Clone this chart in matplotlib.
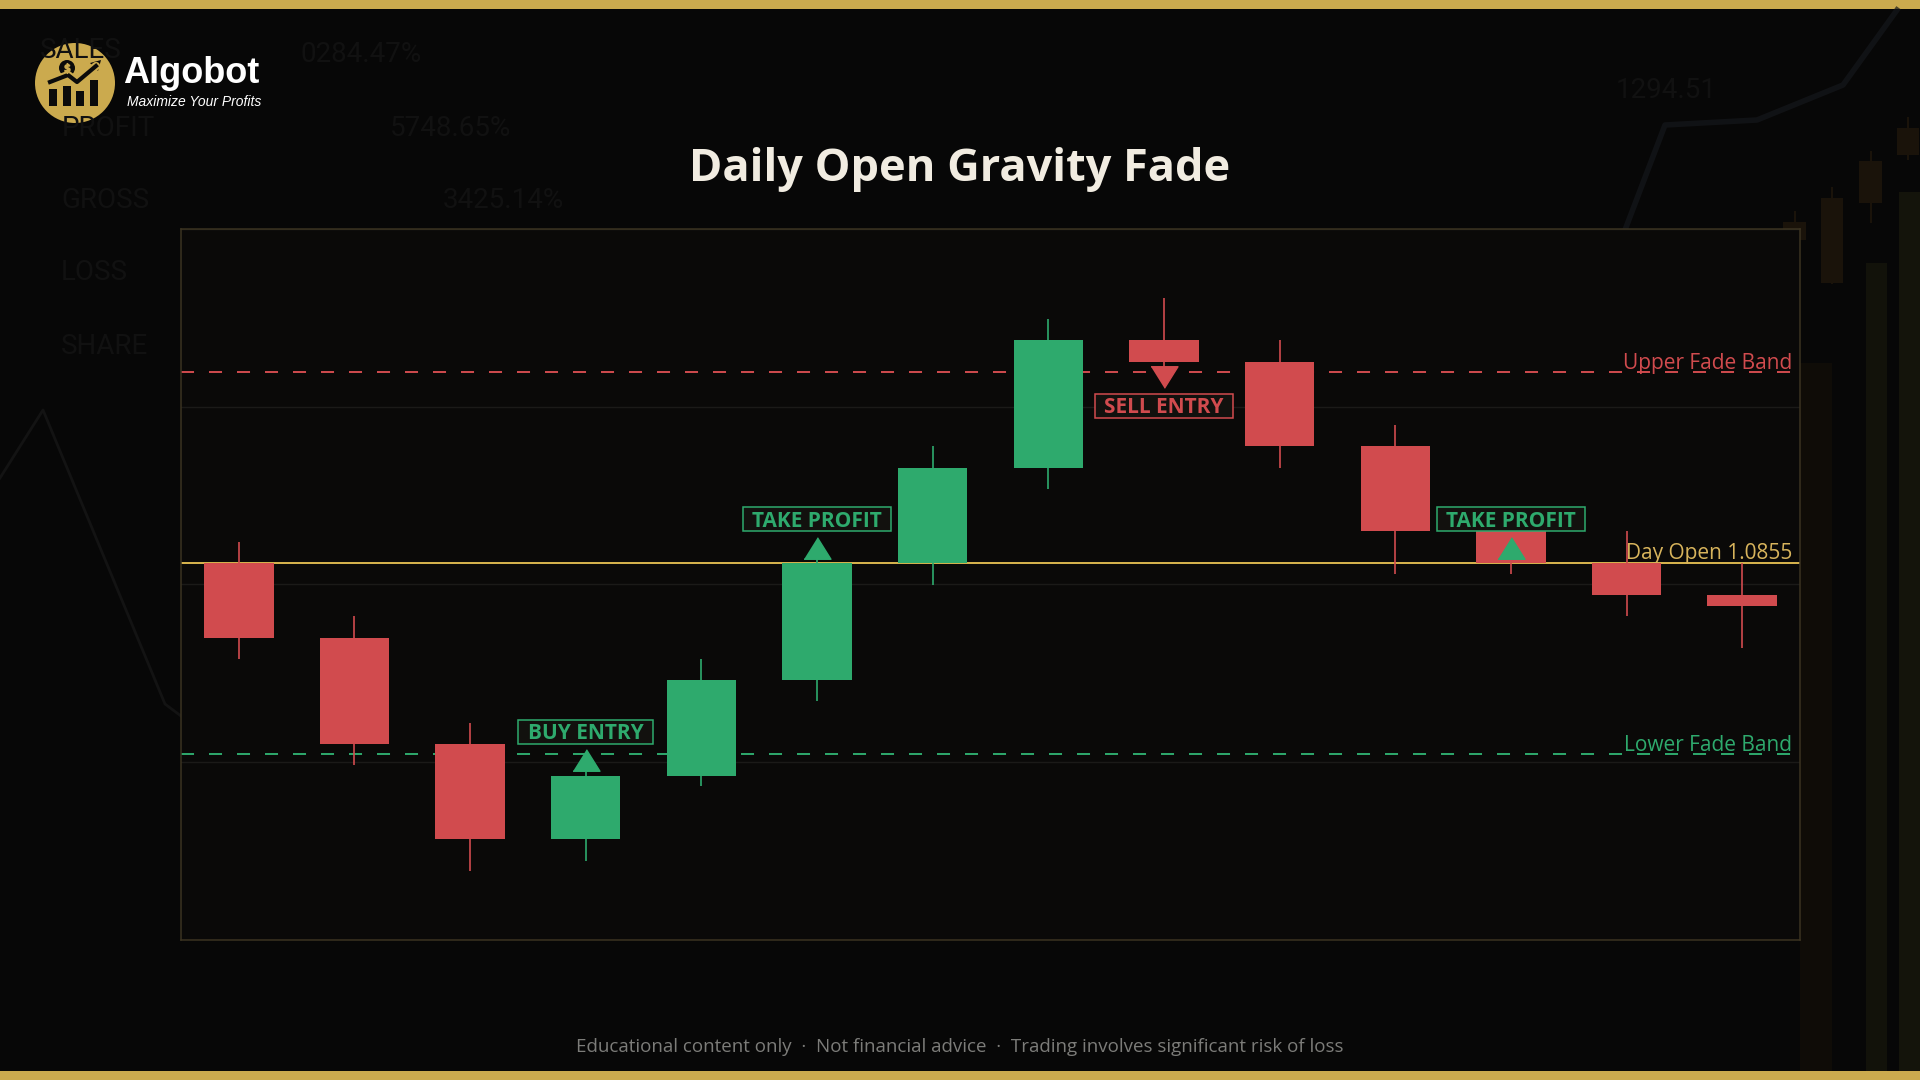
import numpy as np
import matplotlib
matplotlib.use("Agg")
import matplotlib.pyplot as plt
from matplotlib.patches import Rectangle, Circle
from matplotlib.transforms import IdentityTransform, offset_copy

plt.rcParams["font.family"] = ["Open Sans", "DejaVu Sans"]

# candle data (EUR/USD style prices)
opens  = [1.0855, 1.0848, 1.0838, 1.0829, 1.0835, 1.0844, 1.0855, 1.0864, 1.0876, 1.0874, 1.0866, 1.0858, 1.0855, 1.0852]
closes = [1.0848, 1.0838, 1.0829, 1.0835, 1.0844, 1.0855, 1.0864, 1.0876, 1.0874, 1.0866, 1.0858, 1.0855, 1.0852, 1.0851]
highs  = [1.0857, 1.0850, 1.0840, 1.0837, 1.0846, 1.0857, 1.0866, 1.0878, 1.0880, 1.0876, 1.0868, 1.0858, 1.0858, 1.0855]
lows   = [1.0846, 1.0836, 1.0826, 1.0827, 1.0834, 1.0842, 1.0853, 1.0862, 1.0872, 1.0864, 1.0854, 1.0854, 1.0850, 1.0847]

day_open = 1.0855
band = 0.0018

# signals: candle index, label, direction
sig_idx = [3, 5, 8, 11]
sig_text = ["BUY ENTRY", "TAKE PROFIT", "SELL ENTRY", "TAKE PROFIT"]
sig_dir = ["up", "up", "down", "up"]

BG = "#070707"
PANEL = "#0a0908"
GOLD = "#cbaa4e"
RED = "#d14b4e"
GREEN = "#2eaa6d"

fig = plt.figure(figsize=(19.2, 10.8), dpi=100, facecolor=BG)

# background layer in pixel coords
bg = fig.add_axes([0, 0, 1, 1], zorder=-1)
bg.set_xlim(0, 1920)
bg.set_ylim(1080, 0)
bg.axis("off")

faint = "#111111"
for s, xx, yy in [("SALES", 40, 50), ("PROFIT", 62, 128), ("GROSS", 61, 200),
                  ("LOSS", 61, 273), ("SHARE", 61, 346), ("0284.47%", 300, 55),
                  ("5748.65%", 390, 128), ("3425.14%", 443, 200), ("1294.51", 1616, 90)]:
    bg.text(xx, yy, s, color=faint, fontsize=20, family="Roboto", va="center", ha="left")
bg.plot([0, 43, 165, 181], [478, 410, 704, 716], color="#131313", lw=2)
bg.plot([1625, 1665, 1757, 1843, 1897], [230, 125, 120, 85, 10], color="#15171b", lw=4, alpha=0.7)
for x0, y0, x1, c in [(1800, 363, 1832, "#0f0c07"), (1866, 263, 1887, "#12120a"), (1899, 192, 1920, "#14140b")]:
    bg.add_patch(Rectangle((x0, y0), x1 - x0, 1080 - y0, color=c, lw=0))
for x0, x1, b0, b1, w0, w1 in [(1783, 1806, 222, 240, 212, 240), (1821, 1843, 198, 283, 188, 283),
                                (1859, 1882, 161, 203, 152, 222), (1897, 1919, 128, 155, 118, 159)]:
    bg.plot([(x0 + x1) / 2] * 2, [w0, w1], color="#1a130a", lw=1.5)
    bg.add_patch(Rectangle((x0, b0), x1 - x0, b1 - b0, color="#1a130a", lw=0))

# gold bars top / bottom
bg.add_patch(Rectangle((0, 0), 1920, 9, color=GOLD, lw=0))
bg.add_patch(Rectangle((0, 1071), 1920, 9, color=GOLD, lw=0))

# logo
bg.add_patch(Circle((75, 83), 40, color=GOLD, lw=0))
for bx, bt in [(49, 89), (63, 86), (76, 91), (90, 80)]:
    bg.add_patch(Rectangle((bx, bt), 7.5, 106 - bt, color="#0b0b0b", lw=0))
bg.plot([50, 68, 77, 96], [82, 75, 82, 66], color=GOLD, lw=6, solid_capstyle="round")
bg.plot([50, 68, 77, 96], [82, 75, 82, 66], color="#0b0b0b", lw=3)
bg.add_patch(plt.Polygon([[101, 60], [90, 63], [98, 71]], color="#0b0b0b", lw=0))
bg.add_patch(Circle((67, 68), 8, color="#0b0b0b", lw=0))
bg.plot([67], [68], marker=r"$\$$", ms=7, color=GOLD, lw=0)
bg.text(123, 83, "Algobot", color="white", fontsize=26, fontweight="bold", family="Liberation Sans",
        ha="left", va="baseline")
bg.text(127, 106, "Maximize Your Profits", color="white", fontsize=10, style="italic",
        family="Liberation Sans", ha="left", va="baseline")

# title / footer
fig.text(0.5, 1 - 181 / 1080, "Daily Open Gravity Fade", color="#f1ece1", fontsize=32.5,
         fontweight="bold", ha="center", va="baseline")
fig.text(0.5, 1 - 1047 / 1080,
         "Educational content only  \u00b7  Not financial advice  \u00b7  Trading involves significant risk of loss",
         color="#7c7c79", fontsize=13.5, ha="center", va="center")

# chart
ax = fig.add_axes([181 / 1920, 140 / 1080, 1619 / 1920, 711 / 1080])
ax.set_facecolor(PANEL)
for sp in ax.spines.values():
    sp.set_color("#3b3321")
    sp.set_linewidth(1.1)

o = np.array(opens)
c = np.array(closes)
h = np.array(highs)
l = np.array(lows)
x = np.arange(len(o))
cols = np.where(c >= o, GREEN, RED)

rng = h.max() - l.min()
ylo, yhi = l.min() - 0.12 * rng, h.max() + 0.12 * rng
ax.set_ylim(ylo, yhi)
ax.set_xlim(-0.5, len(o) - 0.5)
ax.set_yticks(np.linspace(ylo, yhi, 5))
ax.set_xticks([])
ax.grid(axis="y", color="#1b1a18", lw=1)
ax.tick_params(length=0, labelleft=False)
ax.set_axisbelow(True)

ax.axhline(day_open, color="#dab64e", lw=1.4, zorder=2)
ax.axhline(day_open + band, color=RED, lw=1.4, dashes=(6.7, 7.7), zorder=2)
ax.axhline(day_open - band, color=GREEN, lw=1.4, dashes=(6.7, 7.7), zorder=2)

ax.vlines(x, l, h, colors=cols, lw=1.2, zorder=3)
ax.bar(x, np.abs(c - o), bottom=np.minimum(o, c), width=0.6, color=cols, zorder=4)

lab_kw = dict(fontsize=15, ha="right", va="baseline", textcoords="offset pixels",
              xycoords=ax.get_yaxis_transform())
ax.annotate("Upper Fade Band", (0.995, day_open + band), xytext=(0, 3), color=RED, **lab_kw)
ax.annotate(f"Day Open {day_open:.4f}", (0.995, day_open), xytext=(0, 4), color="#d8b45c", **lab_kw)
ax.annotate("Lower Fade Band", (0.995, day_open - band), xytext=(0, 3), color=GREEN, **lab_kw)

# signal markers and labels
tri_up = [(-1, -0.8), (1, -0.8), (0, 0.8)]
tri_dn = [(-1, 0.8), (1, 0.8), (0, -0.8)]
renderer = fig.canvas.get_renderer()
fs = 15
cap = 0.714 * fs * 100 / 72
for i, txt, d in zip(sig_idx, sig_text, sig_dir):
    col = RED if txt.startswith("SELL") else GREEN
    sgn = 1 if d == "up" else -1
    tr = offset_copy(ax.transData, fig=fig, x=0, y=11 * sgn, units="points")
    ax.plot([x[i]], [c[i]], marker=tri_up if d == "up" else tri_dn, ms=19.4, color=col,
            lw=0, transform=tr, zorder=5)
    px, py = ax.transData.transform((x[i], c[i]))
    cy = py + 44 * sgn
    t = fig.text(px, cy - cap / 2, txt, transform=IdentityTransform(), color=col, fontsize=fs,
                 fontweight="bold", ha="center", va="baseline", zorder=6)
    w = t.get_window_extent(renderer=renderer).width + 19
    fig.add_artist(Rectangle((px - w / 2, cy - 12), w, 24, transform=IdentityTransform(),
                             fc="#12110e", ec=col, lw=1.1, zorder=5))

fig.savefig("out.png", dpi=100, facecolor=BG)
